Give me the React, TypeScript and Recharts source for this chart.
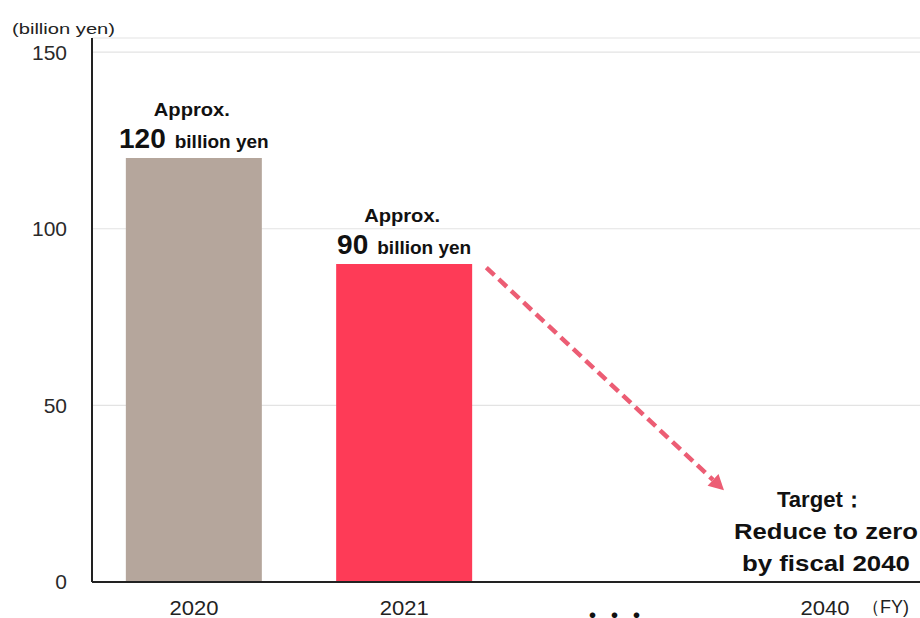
import React from 'react';
import { BarChart, Bar, XAxis, YAxis, CartesianGrid, LabelList, ReferenceLine, ReferenceDot, Cell } from 'recharts';

const categories = ['2020', '2021', '・・・', '2040'];
const positions = [0, 1, 2, 3];
const values: (number | null)[] = [120, 90, null, 0];
const barColors = ['#b5a69c', '#fe3b57', '#ffffff', '#ffffff'];
const yTicks = [0, 50, 100, 150];
const arrowStart = { x: 1.39, y: 89 };
const arrowEnd = { x: 2.52, y: 26 };
const targetPoint = { x: 3, y: 0 };
const approxText = 'Approx.';
const unitText = 'billion yen';
const targetLines = ['Target：', 'Reduce to zero', 'by fiscal 2040'];
const yUnitLabel = '(billion yen)';
const fyLabel = '（FY)';

const data = positions.map((p, i) => ({ x: p, name: categories[i], value: values[i] }));

const FONT = '"Liberation Sans", Arial, sans-serif';

const XTick = (props: any) => {
  const { x, y, payload } = props;
  const label = categories[payload.value];
  if (label === '・・・') {
    return (
      <text x={x} y={y + 41} textAnchor="middle" fontSize={22} fontWeight={700}
        fontFamily='"Noto Sans CJK JP", sans-serif' fill="#111">{label}</text>
    );
  }
  return (
    <g>
      <text x={x} y={y + 33} textAnchor="middle" fontSize={21} fontFamily={FONT} fill="#222"
        textLength={49} lengthAdjust="spacingAndGlyphs">{label}</text>
      {label === '2040' && (
        <text x={x + 37} y={y + 31} textAnchor="start" fontSize={18} fontFamily={FONT} fill="#222">{fyLabel}</text>
      )}
    </g>
  );
};

const BarLabel = (props: any) => {
  const { x, y, width, value } = props;
  if (value === null || value === undefined || value === 0) return null;
  const cx = x + width / 2;
  return (
    <g fontFamily={FONT} fontWeight={700} fill="#111">
      <text x={cx - 2} y={y - 42} textAnchor="middle" fontSize={19} textLength={76} lengthAdjust="spacingAndGlyphs">{approxText}</text>
      <text x={cx} y={y - 10} textAnchor="middle">
        <tspan fontSize={28}>{value}</tspan>
        <tspan fontSize={19} dx={9}>{unitText}</tspan>
      </text>
    </g>
  );
};

const TargetLabel = (props: any) => {
  const vb = props.viewBox || {};
  const cx = (vb.x ?? 0) + (vb.width ?? 0) / 2;
  const cy = (vb.y ?? 0) + (vb.height ?? 0) / 2;
  return (
    <g fontFamily={FONT} fontWeight={700} fill="#111" fontSize={22}>
      {targetLines.map((t, i) => (
        <text key={i} x={cx + (i === 0 ? -4 : 1)} y={cy - 75 + i * 32} textAnchor="middle"
          textLength={i === 0 ? 88 : i === 1 ? 184 : 168} lengthAdjust="spacingAndGlyphs">{t}</text>
      ))}
    </g>
  );
};

const ArrowShape = (props: any) => {
  const { x1, y1, x2, y2 } = props;
  if ([x1, y1, x2, y2].some((v) => typeof v !== 'number' || isNaN(v))) return null;
  const dx = x2 - x1;
  const dy = y2 - y1;
  const len = Math.sqrt(dx * dx + dy * dy);
  const ux = dx / len;
  const uy = dy / len;
  const head = 15;
  const half = 8;
  const bx = x2 - ux * head;
  const by = y2 - uy * head;
  const px = -uy;
  const py = ux;
  return (
    <g>
      <line x1={x1} y1={y1} x2={bx} y2={by} stroke="#ec5d74" strokeWidth={4.5} strokeDasharray="11 6" />
      <polygon
        points={`${x2},${y2} ${bx + px * half},${by + py * half} ${bx - px * half},${by - py * half}`}
        fill="#ec5d74"
      />
    </g>
  );
};

export default function App() {
  return (
    <div style={{ position: 'fixed', left: 0, top: 0, width: 920, height: 618, background: '#fff', overflow: 'hidden' }}>
      <BarChart width={920} height={618} data={data} margin={{ top: 38, right: 0, bottom: 0, left: 0 }}>
        <CartesianGrid horizontal vertical={false} stroke="#e3e3e3" strokeWidth={1.2} />
        <XAxis
          type="number"
          dataKey="x"
          domain={[-0.485, 3.452]}
          ticks={positions}
          allowDataOverflow
          height={36}
          axisLine={{ stroke: '#222', strokeWidth: 2 }}
          tickLine={false}
          tickSize={0}
          tickMargin={0}
          tick={<XTick />}
          interval={0}
        />
        <YAxis
          type="number"
          domain={[0, 154]}
          ticks={yTicks}
          allowDataOverflow
          width={92}
          axisLine={{ stroke: '#222', strokeWidth: 2 }}
          tickLine={false}
          tickSize={0}
          tickMargin={25}
          tick={{ fontSize: 21, fill: '#2a2a2a', fontFamily: FONT }}
          label={{
            content: () => (
              <text x={12} y={34} fontSize={15} fontFamily={FONT} fill="#222" textLength={103} lengthAdjust="spacingAndGlyphs">
                {yUnitLabel}
              </text>
            ),
          }}
        />
        <Bar dataKey="value" barSize={136} isAnimationActive={false}>
          {data.map((d, i) => (
            <Cell key={i} fill={barColors[i]} />
          ))}
          <LabelList dataKey="value" content={<BarLabel />} />
        </Bar>
        <ReferenceLine
          segment={[arrowStart, arrowEnd]}
          shape={<ArrowShape />}
          ifOverflow="visible"
        />
        <ReferenceDot
          x={targetPoint.x}
          y={targetPoint.y}
          r={1}
          fill="none"
          stroke="none"
          ifOverflow="visible"
          label={{ content: <TargetLabel /> }}
        />
      </BarChart>
    </div>
  );
}
